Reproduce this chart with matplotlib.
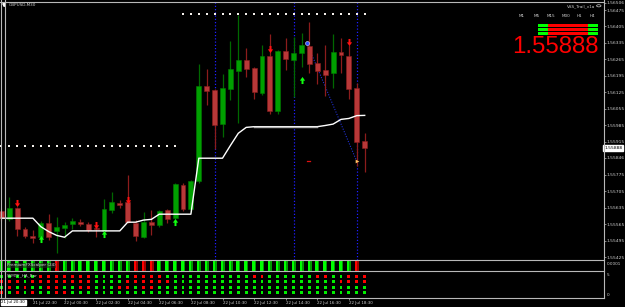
import numpy as np
import matplotlib.pyplot as plt
from matplotlib.path import Path
from matplotlib.lines import Line2D
from matplotlib.patches import Rectangle, Circle, Polygon

W, H = 625, 307

symbol = 'GBPUSD,M30'
trail_name = 'VSS_Trail_v1a'
scalper_name = 'PremiumFXScalper (24)'
ha_name = 'SSMTF_HA_Bar'
last_price = 1.55888

# M30 candles, 21 Jul 20:30 .. 22 Jul 19:30
opens = [1.55621, 1.55585, 1.55633, 1.55545, 1.55516, 1.55509, 1.55568, 1.55536,
         1.55547, 1.55564, 1.55575, 1.55565, 1.55548, 1.55537, 1.55625, 1.55656,
         1.55660, 1.55571, 1.55511, 1.55575, 1.55560, 1.55625, 1.55590, 1.55731,
         1.55628, 1.55748, 1.56152, 1.56135, 1.55989, 1.56139, 1.56217, 1.56262,
         1.56227, 1.56123, 1.56279, 1.56047, 1.56301, 1.56262, 1.56291, 1.56323,
         1.56251, 1.56220, 1.56206, 1.56298, 1.56281, 1.56145, 1.55918]
highs = [1.55633, 1.55681, 1.55638, 1.55554, 1.55540, 1.55578, 1.55607, 1.55594,
         1.55575, 1.55590, 1.55585, 1.55574, 1.55557, 1.55670, 1.55703, 1.55667,
         1.55774, 1.55582, 1.55616, 1.55625, 1.55625, 1.55628, 1.55741, 1.55740,
         1.55752, 1.56245, 1.56224, 1.56139, 1.56203, 1.56343, 1.56454, 1.56312,
         1.56234, 1.56326, 1.56373, 1.56305, 1.56357, 1.56361, 1.56379, 1.56425,
         1.56291, 1.56326, 1.56373, 1.56355, 1.56326, 1.56163, 1.55951]
lows = [1.55578, 1.55578, 1.55514, 1.55504, 1.55486, 1.55497, 1.55497, 1.55443,
        1.55504, 1.55543, 1.55557, 1.55531, 1.55509, 1.55536, 1.55613, 1.55632,
        1.55570, 1.55494, 1.55507, 1.55519, 1.55553, 1.55568, 1.55585, 1.55621,
        1.55618, 1.55738, 1.56071, 1.55883, 1.55936, 1.56092, 1.55993, 1.56189,
        1.56097, 1.56114, 1.56033, 1.56033, 1.56220, 1.56106, 1.56234, 1.56208,
        1.56160, 1.56111, 1.56145, 1.56208, 1.56097, 1.55812, 1.55788]
closes = [1.55590, 1.55633, 1.55543, 1.55514, 1.55507, 1.55568, 1.55509, 1.55551,
          1.55561, 1.55578, 1.55564, 1.55540, 1.55542, 1.55629, 1.55658, 1.55645,
          1.55574, 1.55514, 1.55574, 1.55561, 1.55621, 1.55588, 1.55735, 1.55628,
          1.55748, 1.56152, 1.56132, 1.55986, 1.56142, 1.56223, 1.56262, 1.56224,
          1.56125, 1.56279, 1.56047, 1.56301, 1.56265, 1.56293, 1.56326, 1.56245,
          1.56217, 1.56199, 1.56298, 1.56284, 1.56139, 1.55915, 1.55888]

trail = [1.55590, 1.55590, 1.55590, 1.55590, 1.55590, 1.55554, 1.55533, 1.55517,
         1.55509, 1.55536, 1.55536, 1.55536, 1.55536, 1.55536, 1.55536, 1.55536,
         1.55573, 1.55573, 1.55582, 1.55585, 1.55607, 1.55607, 1.55607, 1.55607,
         1.55607, 1.55845, 1.55845, 1.55845, 1.55845, 1.55899, 1.55951, 1.55976,
         1.55979, 1.55979, 1.55979, 1.55979, 1.55979, 1.55979, 1.55979, 1.55979,
         1.55979, 1.55984, 1.55990, 1.56010, 1.56014, 1.56026, 1.56027]
trail_flat = (32, 40)

sell_idx = [2, 12, 16, 34, 44]
sell_px = [1.55655, 1.55561, 1.55667, 1.56311, 1.56340]
buy_idx = [5, 13, 22, 38]
buy_px = [1.55502, 1.55521, 1.55573, 1.56176]

hi_level, hi_from, hi_to = 1.56458, 23, 46
lo_level, lo_from, lo_to = 1.55897, 0, 22

vline_idx = [27, 37, 45]
trend_x = [38.66, 44.99]
trend_y = [1.56336, 1.55832]
red_mark = (38.9, 1.55832)

price_ticks = [1.56506, 1.56475, 1.56405, 1.56335, 1.56265, 1.56195, 1.56125, 1.56055,
               1.55985, 1.55915, 1.55846, 1.55775, 1.55705, 1.55635, 1.55565, 1.55495,
               1.55425]

time_idx = [4, 8, 12, 16, 20, 24, 28, 32, 36, 40, 44]
time_labels = ['21 Jul 22:30', '22 Jul 00:30', '22 Jul 02:30', '22 Jul 04:30',
               '22 Jul 06:30', '22 Jul 08:30', '22 Jul 10:30', '22 Jul 12:30',
               '22 Jul 14:30', '22 Jul 16:30', '22 Jul 18:30']
first_time = '21 Jul 20:30'

# PremiumFXScalper histogram colour per bar (no value on the open bar)
scalper = 'GGGGGGGRGGGGGGGGGRRRGGGGGGGGGGGGGGGGGGGGGGGGGR'

# SSMTF HA bar, 4 timeframes x bars
ha_rows = ['GGGGGRRRRRRRGGGGGRRRRGGGGGGGGGGGRRGGGGGGRRGGRRR',
           'RRRGRRRRRRRRGGGGRRRRRRGGGGGGGGGGGGGGGGGGGGGRRRR',
           'GRGRGGRRGGRRGGGRRGRRGGGGGGGGGGGGGGGGGGGGGGGGGGG',
           'RGRGRGGRRGGGGGGGGGGGGGGGGGGGGGGGGGGGGGGGGGGGGGG']

tf_names = ['M1', 'M5', 'M15', 'M30', 'H1', 'H4']
tf_rows = [['', 'G', 'R', 'R', 'R', 'G'],
           ['', 'G', 'R', 'R', 'R', 'G'],
           ['', 'G', 'R', 'R', 'R', 'G']]

# ---------------------------------------------------------------
BG = 'black'
GRID = '#b8b8b8'
TXT = '#d0d0d0'
FONT = 'DejaVu Sans'


def fbox(x0, y0, x1, y1):
    return [x0 / W, 1 - y1 / H, (x1 - x0) / W, (y1 - y0) / H]


def fline(fig, xs, ys, **kw):
    fig.add_artist(Line2D([x / W for x in xs], [1 - y / H for y in ys],
                          transform=fig.transFigure, **kw))


def ftext(fig, x, y, s, **kw):
    fig.text(x / W, 1 - y / H, s, **kw)


fig = plt.figure(figsize=(W / 100, H / 100), dpi=100, facecolor=BG)

# x pixel = 1.3 + 7.9 * bar
x_lo = -1.3 / 7.9
x_hi = (603.5 - 1.3) / 7.9
px_per_price = 23524.0
y_top = 1.56475 + 8 / px_per_price
y_bot = 1.56475 - 249.5 / px_per_price

ax = fig.add_axes(fbox(0, 2, 603.5, 259.5), facecolor=BG)
ax1 = fig.add_axes(fbox(0, 260, 603.5, 270.5), facecolor=BG)
ax2 = fig.add_axes(fbox(0, 271, 603.5, 298), facecolor=BG)
for a in (ax, ax1, ax2):
    a.set_xlim(x_lo, x_hi)
    for s in a.spines.values():
        s.set_visible(False)
    a.set_xticks([])
    a.set_yticks([])

ax.set_ylim(y_bot, y_top)

n = len(opens)
idx = np.arange(n)
o = np.array(opens)
c = np.array(closes)
hi = np.array(highs)
lo = np.array(lows)
up = c >= o

# vertical separators and trend line (behind candles)
for k in vline_idx:
    ax.axvline(k, color='#1f1fff', lw=0.9, ls=(0, (1, 1.6)), zorder=1)
ax.plot(trend_x, trend_y, color='#2030d0', lw=0.8, ls=(0, (1, 1.4)), zorder=1)

# level dots
ax.scatter(np.arange(hi_from, hi_to + 1), [hi_level] * (hi_to - hi_from + 1),
           marker='s', s=2.2, color='#f4f0ec', linewidths=0, zorder=2)
ax.scatter(np.arange(lo_from, lo_to + 1), [lo_level] * (lo_to - lo_from + 1),
           marker='s', s=2.2, color='#f4f0ec', linewidths=0, zorder=2)

# candles
ax.vlines(idx[up], lo[up], hi[up], color='#006800', lw=0.9, zorder=3)
ax.vlines(idx[~up], lo[~up], hi[~up], color='#8c1c1c', lw=0.9, zorder=3)
body = np.maximum(np.abs(c - o), 0.00003)
ax.bar(idx[up], body[up], bottom=np.minimum(o, c)[up], width=0.63,
       color='#00a000', edgecolor='#007a00', lw=0.4, zorder=4)
ax.bar(idx[~up], body[~up], bottom=np.minimum(o, c)[~up], width=0.63,
       color='#b83838', edgecolor='#8c1c1c', lw=0.4, zorder=4)

# trailing stop line
ax.plot(idx, trail, color='white', lw=1.0, zorder=5)
a0, a1 = trail_flat
ax.plot(idx[a0:a1 + 1], trail[a0:a1 + 1], color='#b0b0b0', lw=1.0, zorder=5)

# signal arrows
down_arrow = Path([(-0.28, 1), (0.28, 1), (0.28, 0.05), (0.75, 0.05), (0, -1),
                   (-0.75, 0.05), (-0.28, 0.05), (-0.28, 1)], closed=True)
up_arrow = Path([(-0.28, -1), (0.28, -1), (0.28, -0.05), (0.75, -0.05), (0, 1),
                 (-0.75, -0.05), (-0.28, -0.05), (-0.28, -1)], closed=True)
ax.scatter(sell_idx, sell_px, marker=down_arrow, s=26, color='#ff1010',
           linewidths=0, zorder=6)
ax.scatter(buy_idx, buy_px, marker=up_arrow, s=26, color='#10ff10',
           linewidths=0, zorder=6)

# trend line handles
ax.scatter([trend_x[0]], [trend_y[0]], marker='o', s=8, color='#3050ff',
           edgecolors='#e0e0ff', linewidths=0.4, zorder=6)
ax.scatter([trend_x[1]], [trend_y[1]], marker='>', s=7, color='#ffc060',
           linewidths=0, zorder=6)
ax.plot([red_mark[0] - 0.2, red_mark[0] + 0.2], [red_mark[1]] * 2,
        color='#e01010', lw=0.9, zorder=6)

# price scale
ax.yaxis.set_ticks_position('right')
ax.set_yticks(price_ticks, [f'{p:.5f}' for p in price_ticks])
ax.tick_params(axis='y', direction='out', length=1.5, width=0.5, color=GRID,
               pad=1.0, labelsize=3.2, labelcolor=TXT)
for t in ax.get_yticklabels():
    t.set_family(FONT)
ax.text(1.001, last_price, f'{last_price:.5f}', transform=ax.get_yaxis_transform(),
        fontsize=3.2, family=FONT, color='black', va='center', ha='left',
        bbox=dict(boxstyle='square,pad=0.25', fc='white', ec='white'))

# PremiumFXScalper histogram
ax1.set_ylim(0, 1)
sc_idx = np.arange(len(scalper))
sc_bright = ['#00ff00' if s == 'G' else '#ff0000' for s in scalper]
sc_dark = ['#009a00' if s == 'G' else '#a00000' for s in scalper]
ax1.bar(sc_idx - 0.08, 1, width=0.3, color=sc_bright, lw=0)
ax1.bar(sc_idx + 0.17, 1, width=0.2, color=sc_dark, lw=0)

# SSMTF HA bars
ax2.set_ylim(3.98, -1.02)
for r, row in enumerate(ha_rows):
    cols = ['#00ee00' if s == 'G' else '#ff0000' for s in row]
    ax2.scatter(np.arange(len(row)), [r] * len(row), marker='s', s=4.6,
                c=cols, linewidths=0, zorder=2)

ax2.set_xticks(time_idx, time_labels)
ax2.tick_params(axis='x', direction='out', length=1.6, width=0.5, color=GRID,
                pad=0.6, labelsize=2.9, labelcolor=TXT)
for t in ax2.get_xticklabels():
    t.set_ha('left')
    t.set_family(FONT)

# borders
for y in (1.5, 259.5, 270.8, 298.3):
    fline(fig, [0, 604], [y, y], color=GRID, lw=0.8)
fline(fig, [604, 604], [0, 298.3], color=GRID, lw=0.8)
fline(fig, [1.5, 1.5], [0, 298.3], color=GRID, lw=0.8)
fline(fig, [5, 5], [0, 298.3], color=GRID, lw=0.8)

# panel labels
ftext(fig, 9, 5.2, symbol, fontsize=3.0, family=FONT, color=TXT, va='center')
fig.add_artist(Polygon([[2.8 / W, 1 - 3.6 / H], [5.6 / W, 1 - 3.6 / H], [4.2 / W, 1 - 6.6 / H]],
                       closed=True, transform=fig.transFigure, color='white'))
ftext(fig, 7, 265.2, scalper_name, fontsize=3.0, family=FONT, color=TXT,
      va='center', bbox=dict(boxstyle='square,pad=0.1', fc='#202020', ec='none', alpha=0.6))
ftext(fig, 7, 275.8, ha_name, fontsize=3.0, family=FONT, color=TXT, va='center')
ftext(fig, 606.5, 264.2, '0.0001', fontsize=3.0, family=FONT, color=TXT, va='center')
ftext(fig, 606.5, 274.5, '5', fontsize=3.0, family=FONT, color=TXT, va='center')
ftext(fig, 606.5, 294.5, '0', fontsize=3.0, family=FONT, color=TXT, va='center')
ftext(fig, 1.5, 302.5, first_time, fontsize=2.9, family=FONT, color='black',
      va='center', bbox=dict(boxstyle='square,pad=0.2', fc='white', ec='white'))

# trail indicator widget (top right)
ftext(fig, 595.5, 6, trail_name, fontsize=3.0, family=FONT, color=TXT,
      va='center', ha='right')
fig.add_artist(Circle((598.8 / W, 1 - 5.8 / H), 2.2 / W, transform=fig.transFigure,
                      fill=False, ec=TXT, lw=0.5))
tf_x = [521.7, 536.7, 550.7, 566.0, 579.0, 592.3]
for name, x in zip(tf_names, tf_x):
    ftext(fig, x, 16, name, fontsize=3.0, family=FONT, color=TXT, va='center', ha='center')
cell_edges = [530.0, 538.3, 547.7, 561.2, 574.7, 588.3, 598.3]
for r, row in enumerate(tf_rows):
    y0 = 24 + r * 4
    for j, s in enumerate(row):
        if not s:
            continue
        col = '#00ff00' if s == 'G' else '#ff0000'
        fig.add_artist(Rectangle((cell_edges[j] / W, 1 - (y0 + 2.8) / H),
                                 (cell_edges[j + 1] - cell_edges[j]) / W, 2.8 / H,
                                 transform=fig.transFigure, color=col, lw=0))
ftext(fig, 598.5, 53.3, f'{last_price:.5f}', fontsize=17.3, family='Liberation Sans',
      color='#ff0000', va='baseline', ha='right')

fig.savefig('out.png', dpi=100, facecolor=BG)
